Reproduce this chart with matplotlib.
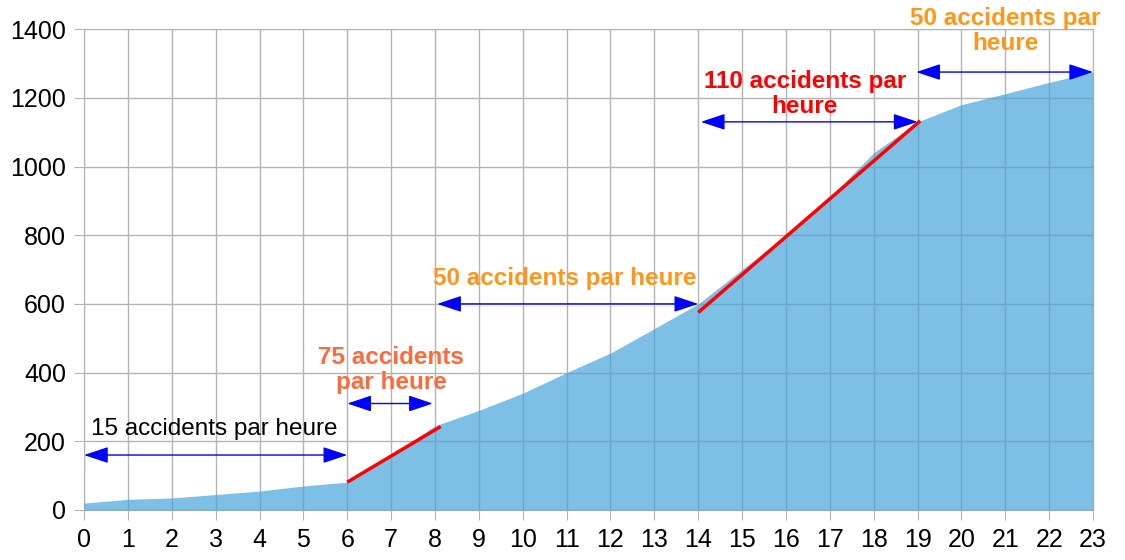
import numpy as np
import matplotlib.pyplot as plt

plt.rcParams['font.family'] = ['Liberation Sans', 'DejaVu Sans']

############# DATA

heures = list(range(24))
cumul = [20, 31, 35, 45, 55, 70, 81, 160, 245, 290, 340, 400,
         457, 528, 600, 700, 800, 910, 1040, 1130, 1180, 1212, 1245, 1275]

# tangent segments (x0, y0, x1, y1)
tangentes = [(6, 81, 8.13, 243), (14, 575, 19.06, 1133)]

# double arrows (x0, x1, y)
fleches = [(0, 6, 160), (6, 7.95, 310), (8.05, 14, 600),
           (14.06, 19, 1130), (18.97, 23, 1275)]

# labels (x, y, text, colour, weight)
textes = [(2.96, 236, "15 accidents par heure", "black", "normal"),
          (7.0, 407, "75 accidents\npar heure", "#ff6a3d", "bold"),
          (10.96, 675, "50 accidents par heure", "#ff961a", "bold"),
          (16.43, 1212, "110 accidents par\nheure", "#ff0000", "bold"),
          (21.0, 1395, "50 accidents par\nheure", "#ff961a", "bold")]

############# PLOT

fig = plt.figure(figsize=(11.25, 5.6), dpi=100)
ax = fig.add_axes([0.0747, 0.0893, 0.8969, 0.8587])

# semi transparent area drawn over the grid (grid shows darker through it)
ax.fill_between(heures, cumul, 0, color="#48a4da", alpha=0.7, lw=0, zorder=3)

for x0, y0, x1, y1 in tangentes:
    ax.plot([x0, x1], [y0, y1], color="red", lw=2.5, zorder=4, solid_capstyle="butt")

for x0, x1, y in fleches:
    ax.annotate("", xy=(x1, y), xytext=(x0, y), zorder=5,
                arrowprops=dict(arrowstyle="<|-|>,head_length=1.5,head_width=0.5",
                                color="#0000ff", lw=1, shrinkA=0, shrinkB=0))

for x, y, t, c, w in textes:
    ax.text(x, y, t, color=c, fontsize=17.5, fontweight=w, ha="center",
            va="center", linespacing=1.1, zorder=6)

ax.set_xlim(0, 23)
ax.set_ylim(0, 1400)
ax.set_xticks(heures)
ax.set_yticks(range(0, 1401, 200))
ax.tick_params(labelsize=18, length=7, color="#b3b3b3", pad=6)
ax.grid(True, color="#b3b3b3", lw=1, zorder=2)
ax.set_axisbelow(True)
for s in ax.spines.values():
    s.set_color("#b3b3b3")

fig.savefig("out.png")
